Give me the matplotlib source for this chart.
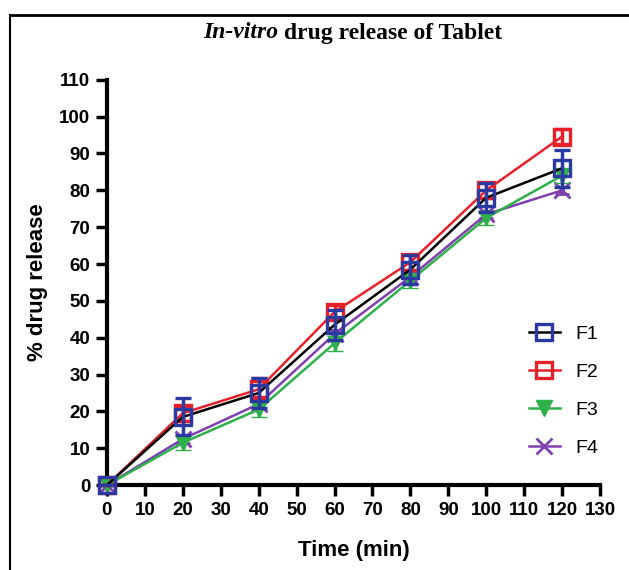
import matplotlib.pyplot as plt
from matplotlib.lines import Line2D

plt.rcParams['font.family'] = ['Liberation Sans', 'DejaVu Sans']

# data
time = [0, 20, 40, 60, 80, 100, 120]
f1 = [0, 18.5, 25, 43.5, 58.5, 78, 86]
f2 = [0, 19.5, 26, 47, 60.5, 80, 94.6]
f3 = [0, 11.5, 20.5, 38.5, 55.5, 72.5, 84]
f4 = [0, 12.5, 22, 41, 56.5, 73.5, 80]
f1_err = [0, 5, 4, 4, 4, 4, 5]
f2_err = [0, 2, 3, 2, 2, 2, 2]
f3_err = [0, 2, 2, 2, 2, 2, 2]
f4_err = [0, 1, 1, 1, 1, 1, 1]
labels = ['F1', 'F2', 'F3', 'F4']

blue = '#2b3aa0'
red = '#e8202a'
green = '#2eb04a'
purple = '#8040b0'

fig = plt.figure(figsize=(6.29, 5.70), dpi=100)
ax = fig.add_axes([0.170, 0.149, 0.784, 0.711])

# frame around the figure (top and left edges visible)
fig.add_artist(Line2D([10 / 629, 10 / 629], [0, 1 - 15 / 570], color='black', lw=1.5))
fig.add_artist(Line2D([10 / 629, 1], [1 - 15 / 570, 1 - 15 / 570], color='black', lw=2))

# F4
ax.errorbar(time, f4, yerr=f4_err, color=purple, marker='x', ms=11, mew=2,
            lw=1.8, capsize=5, elinewidth=2, capthick=2, zorder=3)
# F3
ax.errorbar(time, f3, yerr=f3_err, color=green, marker='v', ms=10, mew=1,
            lw=1.8, capsize=5.5, elinewidth=2.5, capthick=2.5, zorder=4)
# F2
ax.errorbar(time, f2, yerr=f2_err, color=red, marker='s', ms=11, mfc='none',
            mew=2.4, lw=1.8, capsize=5.5, elinewidth=2.5, capthick=2.5, zorder=5)
# F1: black line, blue markers and error bars
ax.plot(time, f1, color='black', lw=1.8, zorder=6)
ax.errorbar(time, f1, yerr=f1_err, color=blue, marker='s', ms=11, mfc='none',
            mew=2.4, ls='none', capsize=5.5, elinewidth=2.5, capthick=2.5, zorder=7)

ax.set_xlim(0, 130)
ax.set_ylim(0, 110)
ax.set_xticks(range(0, 131, 10))
ax.set_yticks(range(0, 111, 10))
ax.spines['top'].set_visible(False)
ax.spines['right'].set_visible(False)
ax.spines['left'].set_linewidth(3)
ax.spines['bottom'].set_linewidth(3)
ax.tick_params(direction='out', length=8, width=2.5, labelsize=13.5, pad=4)
for t in ax.get_xticklabels() + ax.get_yticklabels():
    t.set_fontweight('bold')
for art in ax.get_children():
    try:
        art.set_clip_on(False)
    except Exception:
        pass

ax.set_xlabel('Time (min)', fontsize=16, fontweight='bold', labelpad=15)
ax.set_ylabel('% drug release', fontsize=16, fontweight='bold', labelpad=8)

handles = [
    Line2D([], [], color='black', lw=1.8, marker='s', ms=11, mfc='none', mec=blue, mew=2.4),
    Line2D([], [], color=red, lw=1.8, marker='s', ms=11, mfc='none', mec=red, mew=2.4),
    Line2D([], [], color=green, lw=1.8, marker='v', ms=11),
    Line2D([], [], color=purple, lw=1.8, marker='x', ms=11, mew=2),
]
ax.legend(handles, labels, loc='center left', bbox_to_anchor=(0.82, 0.232),
          frameon=False, fontsize=14, handlelength=1.6, labelspacing=1.05,
          handletextpad=0.8)

# title: italic part + bold part
fig.canvas.draw()
r = fig.canvas.get_renderer()
ty = 1 - 33 / 570
t1 = fig.text(0, ty, 'In-vitro', family='Liberation Serif', style='italic',
              weight='bold', fontsize=17, va='center')
t2 = fig.text(0, ty, ' drug release of Tablet', family='Liberation Serif',
              weight='bold', fontsize=17, va='center')
w1 = t1.get_window_extent(r).width / fig.bbox.width
w2 = t2.get_window_extent(r).width / fig.bbox.width
x0 = 353 / 629 - (w1 + w2) / 2
t1.set_x(x0)
t2.set_x(x0 + w1)

fig.savefig('out.png', dpi=100)
